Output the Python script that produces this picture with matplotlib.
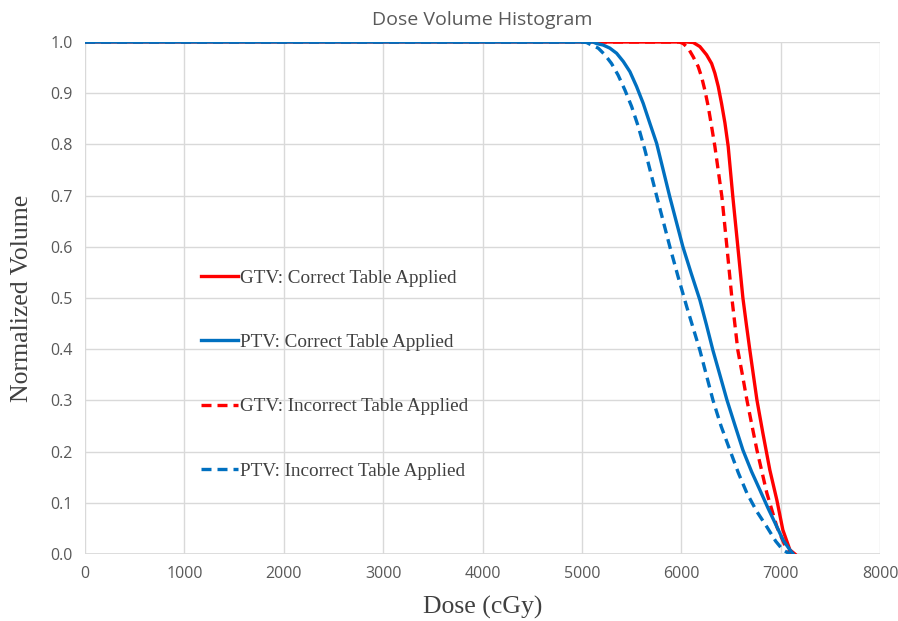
import matplotlib.pyplot as plt

# data (dose in cGy, normalized volume)
gtv_correct_dose = [0, 5000, 6050, 6120, 6187, 6254, 6305, 6338, 6372, 6405, 6439, 6472, 6519, 6569,
                    6620, 6655, 6690, 6725, 6761, 6821, 6891, 6962, 7022, 7093, 7143]
gtv_correct_vol = [1.0, 1.0, 1.0, 0.999, 0.991, 0.975, 0.958, 0.939, 0.913, 0.880, 0.842, 0.796, 0.697, 0.600,
                   0.500, 0.448, 0.398, 0.350, 0.301, 0.236, 0.164, 0.105, 0.047, 0.008, 0.0]

gtv_incorrect_dose = [0, 5000, 5980, 6019, 6069, 6120, 6170, 6204, 6237, 6271, 6305, 6338, 6409, 6459,
                      6509, 6569, 6615, 6660, 6710, 6761, 6861, 6962, 7062, 7110]
gtv_incorrect_vol = [1.0, 1.0, 1.0, 0.997, 0.988, 0.971, 0.952, 0.932, 0.906, 0.874, 0.835, 0.796, 0.697, 0.600,
                     0.500, 0.398, 0.350, 0.301, 0.252, 0.203, 0.119, 0.053, 0.008, 0.0]

ptv_correct_dose = [0, 5000, 5110, 5147, 5214, 5281, 5349, 5416, 5483, 5550, 5617, 5684, 5752, 5885, 6016,
                    6100, 6187, 6254, 6318, 6388, 6459, 6539, 6620, 6707, 6791, 6874, 6962, 7025, 7093, 7126]
ptv_correct_vol = [1.0, 1.0, 1.0, 0.997, 0.994, 0.988, 0.978, 0.962, 0.942, 0.913, 0.880, 0.841, 0.802, 0.697, 0.600,
                   0.548, 0.496, 0.447, 0.398, 0.350, 0.301, 0.252, 0.203, 0.161, 0.125, 0.089, 0.053, 0.027, 0.008, 0.0]

ptv_incorrect_dose = [0, 5000, 5047, 5097, 5164, 5231, 5298, 5365, 5433, 5500, 5567, 5634, 5755, 5885,
                      5970, 6056, 6187, 6318, 6400, 6489, 6575, 6660, 6760, 6861, 6950, 7022, 7093]
ptv_incorrect_vol = [1.0, 1.0, 0.999, 0.994, 0.988, 0.975, 0.958, 0.935, 0.906, 0.874, 0.835, 0.789, 0.697, 0.600,
                     0.540, 0.482, 0.398, 0.301, 0.250, 0.203, 0.158, 0.119, 0.083, 0.053, 0.025, 0.008, 0.0]

x_ticks = [0, 1000, 2000, 3000, 4000, 5000, 6000, 7000, 8000]
y_ticks = [0.0, 0.1, 0.2, 0.3, 0.4, 0.5, 0.6, 0.7, 0.8, 0.9, 1.0]

red = '#FF0000'
blue = '#0070C0'

fig = plt.figure(figsize=(8.98, 6.21), dpi=100)
ax = fig.add_axes([0.0947, 0.1079, 0.8853, 0.8245])

l1, = ax.plot(gtv_correct_dose, gtv_correct_vol, color=red, lw=2.4)
l3, = ax.plot(gtv_incorrect_dose, gtv_incorrect_vol, color=red, lw=2.4, linestyle=(0, (3, 1.8)))
l4, = ax.plot(ptv_incorrect_dose, ptv_incorrect_vol, color=blue, lw=2.4, linestyle=(0, (3, 1.8)))
l2, = ax.plot(ptv_correct_dose, ptv_correct_vol, color=blue, lw=2.4)

ax.set_xlim(0, 8000)
ax.set_ylim(0, 1.0)
ax.set_xticks(x_ticks)
ax.set_yticks(y_ticks)
ax.set_yticklabels(['%.1f' % v for v in y_ticks])
ax.grid(True, color='#D9D9D9', lw=1)
ax.set_axisbelow(True)
for s in ax.spines.values():
    s.set_visible(False)
ax.axhline(0, color='#D9D9D9', lw=1.2, zorder=0.5)
ax.tick_params(length=0, labelsize=11.5, labelcolor='#595959', pad=9)
for lab in ax.get_xticklabels() + ax.get_yticklabels():
    lab.set_family('Open Sans')

ax.set_title('Dose Volume Histogram', fontsize=14, color='#595959', family='Open Sans', pad=12)
ax.set_xlabel('Dose (cGy)', fontsize=18.5, family='Liberation Serif', color='#404040', labelpad=10)
ax.set_ylabel('Normalized Volume', fontsize=18.5, family='Liberation Serif', color='#404040', labelpad=12)

leg = ax.legend([l1, l2, l3, l4],
                ['GTV: Correct Table Applied', 'PTV: Correct Table Applied',
                 'GTV: Incorrect Table Applied', 'PTV: Incorrect Table Applied'],
                loc='upper left', bbox_to_anchor=(0.1335, 0.575), frameon=False,
                prop={'family': 'Liberation Serif', 'size': 13.8},
                labelspacing=2.45, handlelength=1.95, handletextpad=0.1, borderpad=0)
for t in leg.get_texts():
    t.set_color('#404040')

fig.savefig('out.png', dpi=100)
